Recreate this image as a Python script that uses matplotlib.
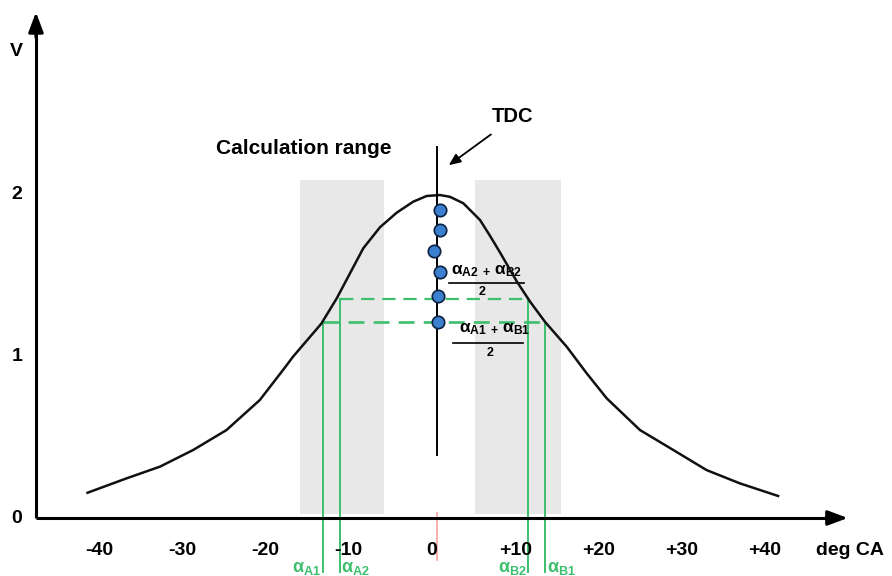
import matplotlib
matplotlib.use("Agg")
import matplotlib.pyplot as plt
from matplotlib.patches import Rectangle

plt.rcParams['font.family'] = ['Liberation Sans', 'DejaVu Sans']

# ---- data ----
curve_x = [-41.4, -36.7, -32.7, -28.7, -24.7, -20.7, -17.9, -16.7, -13.3, -11.45, -9.86,
           -8.26, -6.25, -4.24, -2.25, -0.64, 0.96, 2.16, 3.77, 5.77, 7.0, 8.17, 10.2,
           11.8, 13.6, 16.2, 18.6, 21.0, 25.0, 29.0, 33.0, 37.0, 41.6]
curve_y = [0.156, 0.245, 0.317, 0.420, 0.543, 0.728, 0.914, 0.996, 1.20, 1.356, 1.51,
           1.665, 1.795, 1.885, 1.953, 1.988, 1.994, 1.983, 1.943, 1.84, 1.74, 1.64, 1.46,
           1.335, 1.21, 1.057, 0.893, 0.739, 0.543, 0.420, 0.296, 0.214, 0.136]
dot_x = [0.96, 0.96, 0.28, 0.96, 0.76, 0.76]
dot_y = [1.90, 1.78, 1.65, 1.52, 1.37, 1.21]
x_ticks = [-40, -30, -20, -10, 0, 10, 20, 30, 40]
x_tick_labels = ['-40', '-30', '-20', '-10', '0', '+10', '+20', '+30', '+40']
y_ticks = [0, 1, 2]
y_tick_labels = ['0', '1', '2']
calc_ranges = [(-15.9, -5.8), (5.2, 15.5)]
calc_y = (0.025, 2.085)
tdc_x = 0.6
alpha_a = [-13.1, -11.1]   # alpha_A1, alpha_A2
alpha_b = [13.6, 11.6]     # alpha_B1, alpha_B2
level_1 = 1.21
level_2 = 1.35

GREEN = '#3dbf6e'

fig = plt.figure(figsize=(8.92, 5.76), dpi=100)
ax = fig.add_axes([0, 0, 1, 1])
ax.set_xlim(-51.92, 55.29)
ax.set_ylim(-0.358, 3.198)
ax.axis('off')

# gray calculation ranges
for x0, x1 in calc_ranges:
    ax.add_patch(Rectangle((x0, calc_y[0]), x1 - x0, calc_y[1] - calc_y[0],
                           facecolor='#e8e8e8', edgecolor='none', zorder=1))

# axes with arrows
ax.plot([-47.6, -47.6], [0, 3.0], color='black', lw=2.2, zorder=5, solid_capstyle='butt')
ax.annotate('', xy=(-47.6, 3.14), xytext=(-47.6, 2.95),
            arrowprops=dict(arrowstyle='-|>,head_width=0.45,head_length=1.2',
                            color='black', lw=2.2), zorder=5)
ax.plot([-47.6, 48.0], [0, 0], color='black', lw=2.2, zorder=5, solid_capstyle='butt')
ax.annotate('', xy=(50.3, 0), xytext=(47.0, 0),
            arrowprops=dict(arrowstyle='-|>,head_width=0.45,head_length=1.2',
                            color='black', lw=2.2), zorder=5)

# red small mark at TDC on x axis
ax.plot([tdc_x, tdc_x], [0.03, -0.26], color='#f5a3a3', lw=1.2, zorder=2)

# curve
ax.plot(curve_x, curve_y, color='#111111', lw=1.8, zorder=4,
        solid_joinstyle='round')

# TDC line
ax.plot([tdc_x, tdc_x], [0.39, 2.29], color='black', lw=1.4, zorder=4)

# green helper lines
ax.plot([alpha_a[1], alpha_b[1]], [level_2, level_2], color=GREEN, lw=1.6,
        dashes=(6, 3.5), zorder=3)
ax.plot([alpha_a[0], alpha_b[0]], [level_1, level_1], color=GREEN, lw=1.9,
        dashes=(6, 3.5), zorder=3)
for xa, lv in [(alpha_a[0], level_1), (alpha_a[1], level_2),
               (alpha_b[0], level_1), (alpha_b[1], level_2)]:
    ax.plot([xa, xa], [lv, -0.335], color=GREEN, lw=1.4, zorder=3)

# dots
ax.scatter(dot_x, dot_y, s=80, facecolor='#3b7fcf', edgecolor='#0d2240',
           linewidth=1.2, zorder=6)

# tick labels
for t, lab in zip(x_ticks, x_tick_labels):
    ax.text(t, -0.198, lab, ha='center', va='center', fontsize=14, fontweight='bold')
for t, lab in zip(y_ticks, y_tick_labels):
    ax.text(-49.9, t, lab, ha='center', va='center', fontsize=14, fontweight='bold')
ax.text(-49.9, 2.877, 'V', ha='center', va='center', fontsize=14, fontweight='bold')
ax.text(50.2, -0.198, 'deg CA', ha='center', va='center', fontsize=14, fontweight='bold')

# annotations
ax.text(-15.4, 2.28, 'Calculation range', ha='center', va='center', fontsize=15,
        fontweight='bold')
ax.text(9.7, 2.48, 'TDC', ha='center', va='center', fontsize=14.5, fontweight='bold')
ax.annotate('', xy=(1.75, 2.168), xytext=(7.35, 2.378),
            arrowprops=dict(arrowstyle='-|>,head_width=0.3,head_length=0.7',
                            color='black', lw=1.3))

# fractions
ax.text(6.6, 1.523, r'$\mathregular{α_{A2}{}_{\,+\,}α_{B2}}$', ha='center', va='center',
        fontsize=12.5, fontweight='bold')
ax.plot([2.0, 11.0], [1.452, 1.452], color='black', lw=1.2)
ax.text(6.0, 1.398, '2', ha='center', va='center', fontsize=9, fontweight='bold')

ax.text(7.5, 1.165, r'$\mathregular{α_{A1}{}_{\,+\,}α_{B1}}$', ha='center', va='center',
        fontsize=12.5, fontweight='bold')
ax.plot([2.5, 10.9], [1.078, 1.078], color='black', lw=1.2)
ax.text(7.0, 1.018, '2', ha='center', va='center', fontsize=9, fontweight='bold')

# green alpha labels at bottom
lab_y = -0.31
ax.text(alpha_a[0] - 0.2, lab_y, r'$\mathregular{α_{A1}}$', ha='right', va='center',
        fontsize=13, fontweight='bold', color=GREEN)
ax.text(alpha_a[1] + 0.2, lab_y, r'$\mathregular{α_{A2}}$', ha='left', va='center',
        fontsize=13, fontweight='bold', color=GREEN)
ax.text(alpha_b[1] - 0.2, lab_y, r'$\mathregular{α_{B2}}$', ha='right', va='center',
        fontsize=13, fontweight='bold', color=GREEN)
ax.text(alpha_b[0] + 0.2, lab_y, r'$\mathregular{α_{B1}}$', ha='left', va='center',
        fontsize=13, fontweight='bold', color=GREEN)

fig.savefig('out.png', dpi=100)
